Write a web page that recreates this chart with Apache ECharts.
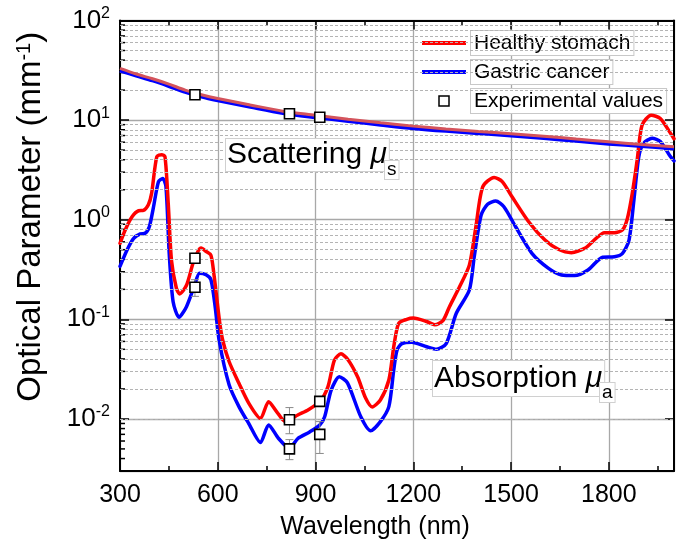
<!DOCTYPE html>
<html><head><meta charset="utf-8">
<script src="https://cdn.jsdelivr.net/npm/echarts@6/dist/echarts.min.js"></script>
<style>html,body{margin:0;padding:0;background:#fff}#c{width:677px;height:560px}</style>
</head><body><div id="c"></div>
<script>
// ---- data ----
const xTickLabels = [300, 600, 900, 1200, 1500, 1800];
const yMinorValues = [0.004,0.005,0.006,0.007,0.008,0.009,
  0.02,0.03,0.04,0.05,0.06,0.07,0.08,0.09,
  0.2,0.3,0.4,0.5,0.6,0.7,0.8,0.9,
  2,3,4,5,6,7,8,9,
  20,30,40,50,60,70,80,90];

const scatNm = [300,350,400,450,500,550,600,700,800,900,1000,1100,1200,1300,1400,1500,1600,1700,1800,1900,2000];
const healthyScat = [33,29,26,23,20,18,16.5,14.2,12.3,11.2,10.2,9.4,8.7,8.15,7.7,7.3,6.9,6.45,6.05,5.7,5.4];
const cancerScat  = [31.5,28,25,22,19.2,17.2,15.8,13.6,11.8,10.7,9.8,9.0,8.3,7.8,7.4,7.0,6.6,6.2,5.8,5.5,5.2];

const healthyAbsNm = [300,316,337,357,372,387,397,413,428,438,448,458,473,483,504,524,539,549,564,579,589,605,615,635,665,695,731,756,781,807,820,847,877,913,938,958,978,998,1029,1054,1074,1099,1125,1140,1155,1180,1200,1241,1266,1291,1311,1342,1372,1392,1413,1448,1473,1503,1554,1604,1645,1685,1726,1761,1786,1817,1842,1857,1872,1887,1902,1930,1958,1989,2000];
const healthyAbs   = [0.58,0.79,1.07,1.23,1.24,1.41,1.84,4.3,4.5,4.3,1.46,0.39,0.205,0.18,0.22,0.365,0.48,0.52,0.48,0.44,0.27,0.098,0.062,0.0375,0.0228,0.0144,0.0101,0.0149,0.0118,0.0094,0.0098,0.011,0.0123,0.0149,0.021,0.039,0.045,0.040,0.0265,0.0161,0.0132,0.0155,0.0246,0.053,0.091,0.100,0.103,0.095,0.088,0.097,0.134,0.212,0.35,0.85,2.14,2.66,2.41,1.70,0.955,0.625,0.505,0.467,0.516,0.65,0.74,0.74,0.79,1.03,1.84,3.97,8.9,11.2,10.4,7.4,6.5];

const cancerAbsNm = [300,322,342,362,377,390,402,418,431,441,451,463,481,504,529,544,564,579,592,604,635,665,695,731,756,786,819,847,882,913,928,948,973,998,1039,1069,1099,1125,1140,1150,1165,1195,1241,1271,1301,1332,1372,1387,1408,1428,1453,1478,1514,1564,1615,1655,1695,1736,1781,1817,1842,1862,1877,1892,1907,1933,1958,1989,2000];
const cancerAbs   = [0.34,0.50,0.65,0.72,0.73,0.85,1.30,2.41,2.6,2.15,0.46,0.15,0.105,0.134,0.22,0.29,0.28,0.25,0.134,0.062,0.0219,0.0133,0.0090,0.0058,0.0087,0.0064,0.0051,0.0064,0.0074,0.0087,0.0105,0.0195,0.0265,0.023,0.0105,0.0076,0.0094,0.0133,0.031,0.049,0.057,0.059,0.053,0.050,0.057,0.115,0.197,0.425,1.11,1.43,1.54,1.35,0.85,0.46,0.325,0.279,0.275,0.313,0.42,0.425,0.46,0.625,1.58,4.3,5.85,6.56,6.1,4.3,3.9];

const expNm   = [530,820,913,530,530,820,820,913,913];
const expVal  = [18,11.6,10.7,0.41,0.21,0.0098,0.0050,0.0150,0.0070];
const expLow  = [16.8,11.0,10.1,0.365,0.17,0.0071,0.0039,0.0135,0.0045];
const expHigh = [19.2,12.3,11.3,0.46,0.25,0.0130,0.0062,0.0165,0.0094];

// ---- chart ----
const FONT = 'Liberation Sans';
const pairs = (xs, ys) => xs.map((x, i) => [x, ys[i]]);
const chart = echarts.init(document.getElementById('c'), null, {renderer: 'canvas'});

const axisLineStyle = {show: true, lineStyle: {color: '#000', width: 2}};
const tickStyle = {show: true, inside: true, length: 9, lineStyle: {color: '#000', width: 1.5}};
const minorTickStyle = {show: true, splitNumber: 2, length: 5, lineStyle: {color: '#000', width: 1.5}};

const option = {
  animation: false,
  backgroundColor: '#fff',
  textStyle: {fontFamily: FONT},
  grid: {left: 120, top: 20.5, width: 561, height: 450.5, containLabel: false},
  xAxis: [{
    type: 'value', position: 'bottom', min: 300, max: 2000, interval: 300,
    axisLine: axisLineStyle, axisTick: tickStyle, minorTick: minorTickStyle,
    splitLine: {show: true, lineStyle: {color: '#a8a8a8', width: 1.3}},
    axisLabel: {fontSize: 25, color: '#000', fontFamily: FONT, margin: 10, lineHeight: 28,
      formatter: v => (xTickLabels.indexOf(v) >= 0 ? String(v) : '')},
    name: 'Wavelength (nm)', nameLocation: 'middle', nameGap: 44,
    nameTextStyle: {fontSize: 25, color: '#000', fontFamily: FONT, padding: [0, 44, 0, 0]}
  }, {
    type: 'value', position: 'top', min: 300, max: 2000, interval: 300,
    axisLine: axisLineStyle, axisTick: tickStyle, minorTick: minorTickStyle,
    splitLine: {show: false}, axisLabel: {show: false}
  }],
  yAxis: [{
    type: 'log', logBase: 10, position: 'left', min: 0.003, max: 100,
    axisLine: axisLineStyle, axisTick: tickStyle,
    splitLine: {show: true, lineStyle: {color: '#a8a8a8', width: 1.3}},
    axisLabel: {color: '#000', margin: 10, fontFamily: FONT,
      formatter: v => {
        const l = Math.log10(v), e = Math.round(l);
        if (Math.abs(l - e) > 1e-6) return '';
        return '{b|10}{s|' + e + '}';
      },
      rich: {b: {fontSize: 26, fontFamily: FONT, color: '#000', lineHeight: 30},
             s: {fontSize: 16, fontFamily: FONT, color: '#000', verticalAlign: 'top', lineHeight: 30, padding: [0, 0, 12, 0]}}
    },
    name: 'Optical Parameter (mm{sup|-1})', nameLocation: 'middle', nameGap: 72,
    nameTextStyle: {fontSize: 33, color: '#000', fontFamily: FONT, padding: [0, 0, 0, 58],
      rich: {sup: {fontSize: 20, fontFamily: FONT, color: '#000', verticalAlign: 'top', padding: [0, 0, 14, 0]}}}
  }, {
    type: 'log', logBase: 10, position: 'right', min: 0.003, max: 100,
    axisLine: axisLineStyle, axisTick: tickStyle, splitLine: {show: false}, axisLabel: {show: false}
  }],
  legend: [{
    left: 422, top: 30, orient: 'vertical', padding: 0, itemWidth: 44, itemHeight: 10, itemGap: 3,
    data: [
      {name: 'Healthy stomach', icon: 'path://M0,0H44V4H0Z'},
      {name: 'Gastric cancer', icon: 'path://M0,0H44V4H0Z'},
      {name: 'Experimental values', icon: 'path://M0,0H10V10H0Z',
        itemStyle: {color: '#fff', borderColor: '#000', borderWidth: 1.5}}
    ],
    textStyle: {fontSize: 21, fontFamily: FONT, color: '#000', backgroundColor: '#fff',
      borderColor: '#c8c8c8', borderWidth: 1, padding: [1, 3, 1, 3], lineHeight: 22}
  }],
  series: [
    {type: 'custom', name: 'minorticks', silent: true, z: 1,
      renderItem: (params, api) => {
        const p = api.coord([api.value(0), api.value(1)]);
        return {type: 'line', shape: {x1: p[0], y1: p[1], x2: p[0] + 5, y2: p[1]},
          style: {stroke: '#000', lineWidth: 1.5}};
      },
      data: yMinorValues.map(v => [300, v]),
      markLine: {silent: true, symbol: 'none', label: {show: false}, animation: false,
        lineStyle: {color: '#b4b4b4', type: [3, 2], width: 1},
        data: yMinorValues.map(v => ({yAxis: v}))}
    },
    {type: 'line', name: 'Gastric cancer', data: pairs(cancerAbsNm, cancerAbs), showSymbol: false, symbol: 'none',
      smooth: 0.25, lineStyle: {color: '#0000ff', width: 3.5, join: 'round', cap: 'round'}, itemStyle: {color: '#0000ff'}, z: 3},
    {type: 'line', name: 'Healthy stomach', data: pairs(healthyAbsNm, healthyAbs), showSymbol: false, symbol: 'none',
      smooth: 0.25, lineStyle: {color: '#ff0000', width: 3.5, join: 'round', cap: 'round'}, itemStyle: {color: '#ff0000'}, z: 4},
    {type: 'line', name: 'Gastric cancer', data: pairs(scatNm, cancerScat), showSymbol: false, symbol: 'none',
      smooth: 0.3, lineStyle: {color: '#0000ff', width: 4}, itemStyle: {color: '#0000ff'}, z: 5},
    {type: 'line', name: 'Healthy stomach', data: pairs(scatNm, healthyScat), showSymbol: false, symbol: 'none',
      smooth: 0.3, lineStyle: {color: '#d4545c', width: 3}, itemStyle: {color: '#ff0000'}, z: 6},
    {type: 'custom', name: 'errorbars', silent: true, z: 7,
      renderItem: (params, api) => {
        const x = api.value(0);
        const a = api.coord([x, api.value(1)]), b = api.coord([x, api.value(2)]);
        const st = {stroke: '#8a8a8a', lineWidth: 1};
        return {type: 'group', children: [
          {type: 'line', shape: {x1: a[0], y1: a[1], x2: b[0], y2: b[1]}, style: st},
          {type: 'line', shape: {x1: a[0] - 4, y1: a[1], x2: a[0] + 4, y2: a[1]}, style: st},
          {type: 'line', shape: {x1: b[0] - 4, y1: b[1], x2: b[0] + 4, y2: b[1]}, style: st}
        ]};
      },
      encode: {x: 0, y: [1, 2]},
      data: expNm.map((x, i) => [x, expLow[i], expHigh[i]])
    },
    {type: 'scatter', name: 'Experimental values', data: pairs(expNm, expVal), symbol: 'rect', symbolSize: 10,
      itemStyle: {color: '#ffffff', opacity: 1, borderColor: '#000', borderWidth: 1.6}, z: 8}
  ],
  graphic: [
    {type: 'text', left: 225, top: 138, z: 100,
      style: {text: '{a|Scattering }{m|μ}', fill: '#000',
        rich: {a: {fontSize: 30, fontFamily: FONT, lineHeight: 32},
               m: {fontSize: 30, fontFamily: FONT, fontStyle: 'italic', lineHeight: 32}},
        backgroundColor: '#fff', borderColor: '#d0d0d0', borderWidth: 1, padding: [0, 2, 0, 1]}},
    {type: 'text', left: 384, top: 160, z: 101,
      style: {text: 's', fill: '#000', fontSize: 19, fontFamily: FONT, lineHeight: 18,
        backgroundColor: '#fff', borderColor: '#d0d0d0', borderWidth: 1, padding: [0, 2, 0, 2]}},
    {type: 'text', left: 432, top: 360, z: 100,
      style: {text: '{a|Absorption }{m|μ}', fill: '#000',
        rich: {a: {fontSize: 30, fontFamily: FONT, lineHeight: 35},
               m: {fontSize: 30, fontFamily: FONT, fontStyle: 'italic', lineHeight: 35}},
        backgroundColor: '#fff', borderColor: '#d0d0d0', borderWidth: 1, padding: [0, 2, 0, 1]}},
    {type: 'text', left: 599, top: 382, z: 101,
      style: {text: 'a', fill: '#000', fontSize: 19, fontFamily: FONT, lineHeight: 19,
        backgroundColor: '#fff', borderColor: '#d0d0d0', borderWidth: 1, padding: [0, 2, 0, 2]}}
  ]
};
chart.setOption(option);
</script>
</body></html>
